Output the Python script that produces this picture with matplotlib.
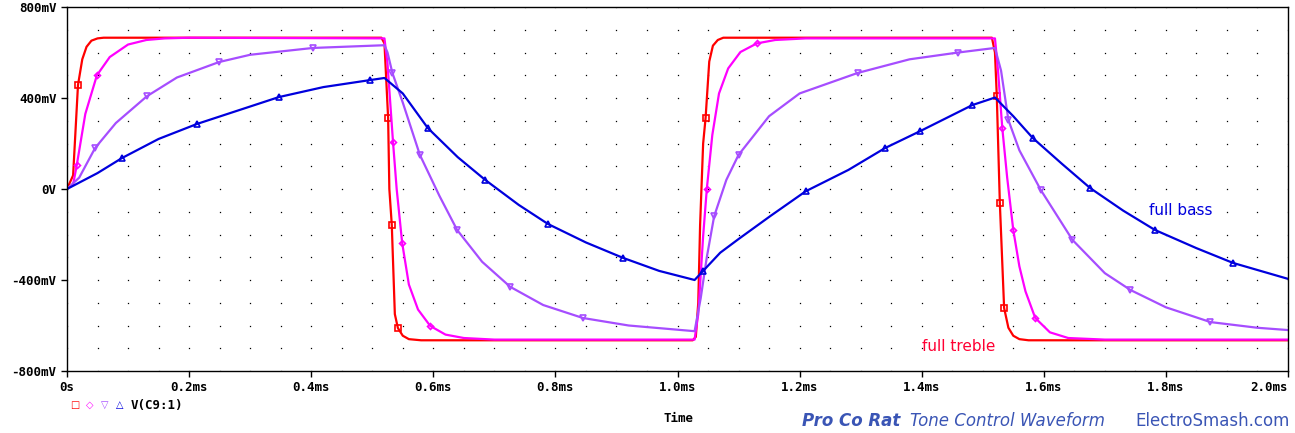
import numpy as np
import matplotlib.pyplot as plt

# time in ms, voltage in mV
t_red = [0, 0.01, 0.018, 0.025, 0.032, 0.04, 0.05, 0.06, 0.515, 0.52, 0.526, 0.528, 0.532, 0.537, 0.542,
         0.55, 0.56, 0.58, 1.025, 1.03, 1.034, 1.037, 1.042, 1.046, 1.052, 1.058, 1.066, 1.075, 1.515,
         1.52, 1.523, 1.528, 1.535, 1.542, 1.55, 1.56, 1.575, 2.0]
v_red = [0, 60, 457, 570, 625, 652, 662, 665, 665, 640, 312, 0, -158, -550, -611,
         -645, -660, -665, -665, -650, -500, -160, 200, 312, 560, 630, 655, 665, 665,
         600, 408, -62, -523, -610, -645, -660, -665, -665]

t_mag = [0, 0.01, 0.016, 0.03, 0.049, 0.07, 0.1, 0.13, 0.16, 0.2, 0.52, 0.525, 0.534, 0.54, 0.549,
         0.56, 0.575, 0.595, 0.62, 0.65, 0.7, 1.028, 1.034, 1.042, 1.048, 1.057, 1.068, 1.083, 1.103,
         1.13, 1.16, 1.21, 1.52, 1.525, 1.532, 1.54, 1.55, 1.56, 1.57, 1.586, 1.61, 1.64, 1.7, 2.0]
v_mag = [0, 20, 105, 330, 500, 580, 635, 655, 662, 665, 662, 550, 207, 0, -237,
         -420, -530, -602, -640, -655, -662, -662, -550, -207, 0, 237, 420, 530, 602,
         640, 655, 662, 662, 520, 268, 50, -180, -340, -450, -567, -630, -655, -662, -662]

t_pur = [0, 0.02, 0.046, 0.08, 0.131, 0.18, 0.249, 0.3, 0.403, 0.52, 0.525, 0.533, 0.55, 0.578,
         0.61, 0.639, 0.68, 0.726, 0.78, 0.845, 0.92, 1.028, 1.038, 1.048, 1.06, 1.08, 1.1, 1.15, 1.2,
         1.295, 1.38, 1.46, 1.52, 1.53, 1.542, 1.56, 1.595, 1.647, 1.7, 1.742, 1.8, 1.873, 1.95, 2.0]
v_pur = [0, 50, 180, 290, 408, 490, 558, 590, 620, 632, 600, 510, 380, 150,
         -30, -180, -320, -430, -510, -567, -600, -625, -480, -300, -120, 40, 150, 320, 420,
         510, 570, 600, 620, 520, 303, 170, -4, -224, -370, -444, -520, -585, -610, -620]

t_blu = [0, 0.05, 0.09, 0.15, 0.213, 0.28, 0.347, 0.42, 0.497, 0.52, 0.55, 0.591, 0.64, 0.685, 0.74,
         0.788, 0.85, 0.911, 0.97, 1.028, 1.042, 1.07, 1.1, 1.152, 1.21, 1.28, 1.34, 1.398, 1.483, 1.52,
         1.55, 1.582, 1.63, 1.676, 1.73, 1.782, 1.85, 1.91, 2.0]
v_blu = [0, 70, 136, 220, 286, 345, 404, 448, 479, 488, 420, 268, 140, 40, -70,
         -154, -235, -303, -360, -400, -360, -280, -220, -119, -10, 84, 180, 255, 369, 402,
         320, 224, 110, 4, -95, -180, -260, -325, -395]

fig = plt.figure(figsize=(12.95, 4.33), dpi=100)
ax = fig.add_axes([67/1295, 1 - 371/433, (1288-67)/1295, (371-7)/433])

# dotted grid
gx, gy = np.meshgrid(np.arange(0, 2.0001, 0.05), np.arange(-800, 801, 100))
ax.plot(gx.ravel(), gy.ravel(), ls='none', marker='s', ms=0.9, mew=0, color='black')

kw = dict(lw=1.6, mfc='none', ms=4, mew=1.2)
ax.plot(t_red, v_red, color='#ff0000', marker='s', markevery=[2, 10, 12, 14, 23, 30, 31, 32], **kw)
ax.plot(t_mag, v_mag, color='#ff00ff', marker='D', markevery=[2, 4, 12, 14, 17, 24, 29, 34, 36, 39],
        lw=1.6, mfc='none', ms=3, mew=1.2)
ax.plot(t_pur, v_pur, color='#a64dff', marker='v', markevery=[2, 4, 6, 8, 11, 13, 15, 17, 19, 24, 26, 29, 31, 34, 36, 37, 39, 41],
        **kw)
ax.plot(t_blu, v_blu, color='#0000dd', marker='^', markevery=[2, 4, 6, 8, 11, 13, 15, 17, 20, 24, 26, 27, 28, 31, 33, 35, 37],
        **kw)

ax.set_xlim(0, 2.0)
ax.set_ylim(-800, 800)
ax.set_xticks([0, 0.2, 0.4, 0.6, 0.8, 1.0, 1.2, 1.4, 1.6, 1.8, 2.0])
ax.set_xticklabels(['0s', '0.2ms', '0.4ms', '0.6ms', '0.8ms', '1.0ms', '1.2ms', '1.4ms', '1.6ms', '1.8ms', '2.0ms'])
ax.set_yticks([-800, -400, 0, 400, 800])
ax.set_yticklabels(['-800mV', '-400mV', '0V', '400mV', '800mV'])
for lab in ax.get_xticklabels() + ax.get_yticklabels():
    lab.set_family('DejaVu Sans Mono')
    lab.set_fontweight('bold')
    lab.set_fontsize(9)
ax.get_xticklabels()[-1].set_ha('right')
ax.tick_params(direction='out', length=4, width=1)
for s in ax.spines.values():
    s.set_linewidth(1)

ax.text(1.772, -95, 'full bass', color='#0000dd', fontsize=11, va='center')
ax.text(1.4, -710, 'full treble', color='#ff0033', fontsize=11)

# legend row
fig.text(70/1295, 1 - 405/433, '□', color='red', fontsize=7, va='center')
fig.text(86/1295, 1 - 405/433, '◇', color='#ff00ff', fontsize=7, va='center')
fig.text(101/1295, 1 - 405/433, '▽', color='#a64dff', fontsize=7, va='center')
fig.text(116/1295, 1 - 405/433, '△', color='#0000dd', fontsize=7, va='center')
fig.text(131/1295, 1 - 405/433, 'V(C9:1)', family='DejaVu Sans Mono', fontweight='bold', fontsize=9, va='center')
fig.text(678/1295, 1 - 418/433, 'Time', family='DejaVu Sans Mono', fontweight='bold', fontsize=9, ha='center', va='center')

fig.text(802/1295, 1 - 421/433, 'Pro Co Rat', color='#3a55b5', fontsize=12, fontweight='bold', style='italic', va='center')
fig.text(910/1295, 1 - 421/433, 'Tone Control Waveform', color='#3a55b5', fontsize=12, style='italic', va='center')
fig.text(1135/1295, 1 - 421/433, 'ElectroSmash.com', color='#3a55b5', fontsize=12, va='center')

fig.savefig('out.png', dpi=100)
